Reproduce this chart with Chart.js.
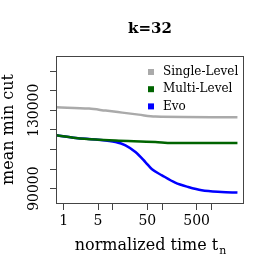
<!DOCTYPE html>
<html>
<head>
<meta charset="utf-8">
<script src="https://cdn.jsdelivr.net/npm/chart.js@4"></script>
<style>
  html, body { margin: 0; padding: 0; background: #fff; }
  #wrap { width: 273px; height: 273px; }
</style>
</head>
<body>
<div id="wrap"><canvas id="c" width="273" height="273"></canvas></div>
<script>
// data (x = normalized time, log scale)
var chartTitle = "k=32";
var seriesNames = ["Single-Level", "Multi-Level", "Evo"];
var seriesColors = ["#aaaaaa", "#006400", "#0000ff"];

var singleX = [0.72, 3.28, 7.13, 15.5, 33.4, 72.6, 3375];
var singleY = [131530, 130870, 129850, 128820, 127800, 126780, 126420];

var multiX = [0.72, 1.77, 4.48, 11.3, 72.6, 158, 3375];
var multiY = [117230, 115850, 115030, 114520, 113800, 113290, 113290];

var evoX = [0.72, 1.77, 4.48, 11.3, 18.0, 28.7, 45.6, 62.3, 99, 184, 340, 634, 1607, 3375];
var evoY = [117230, 115850, 115030, 113800, 112120, 108690, 103580, 99850, 96790, 93060, 90810, 89120, 88250, 87950];

var xTicks = [1, 5, 10, 50, 100, 500, 1000];
var xTickLabels = [1, 5, 50, 500];
var yTicks = [90000, 100000, 110000, 120000, 130000, 140000, 150000];
var yTickLabels = [90000, 130000];

var serif = "'DejaVu Serif', serif";

function pts(xs, ys) {
  var out = [];
  for (var i = 0; i < xs.length; i++) out.push({x: xs[i], y: ys[i]});
  return out;
}

var allX = [singleX, multiX, evoX];
var allY = [singleY, multiY, evoY];
var datasets = [];
for (var i = 0; i < seriesNames.length; i++) {
  datasets.push({
    label: seriesNames[i],
    data: pts(allX[i], allY[i]),
    borderColor: seriesColors[i],
    backgroundColor: seriesColors[i],
    borderWidth: 2.5,
    pointRadius: 0,
    cubicInterpolationMode: "monotone"
  });
}

// box, title, rotated y labels, axis titles and legend in R style
var rStyle = {
  id: "rStyle",
  afterDraw: function(chart) {
    var ctx = chart.ctx;
    var a = chart.chartArea;
    var cx = (a.left + a.right) / 2;
    ctx.save();
    ctx.strokeStyle = "#444";
    ctx.lineWidth = 1;
    ctx.strokeRect(a.left + 0.5, a.top + 0.5, a.right - a.left - 1, a.bottom - a.top);

    ctx.fillStyle = "#000";
    ctx.textAlign = "center";
    ctx.textBaseline = "middle";

    // main title, centred over the plot region
    ctx.font = "bold 15px " + serif;
    ctx.fillText(chartTitle, cx, 29);

    // y tick labels
    var ys = chart.scales.y;
    ctx.font = "14px " + serif;
    yTickLabels.forEach(function(v) {
      ctx.save();
      ctx.translate(34, ys.getPixelForValue(v));
      ctx.rotate(-Math.PI / 2);
      ctx.fillText(String(v), 0, 0);
      ctx.restore();
    });

    // y title
    ctx.save();
    ctx.font = "16px " + serif;
    ctx.translate(9, (a.top + a.bottom) / 2);
    ctx.rotate(-Math.PI / 2);
    ctx.fillText("mean min cut", 0, 0);
    ctx.restore();

    // x title with subscript n
    ctx.font = "16px " + serif;
    var main = "normalized time t";
    var w1 = ctx.measureText(main).width;
    ctx.font = "11px " + serif;
    var w2 = ctx.measureText("n").width;
    var sx = cx - (w1 + w2) / 2;
    ctx.textAlign = "left";
    ctx.textBaseline = "alphabetic";
    ctx.font = "16px " + serif;
    ctx.fillText(main, sx, 250);
    ctx.font = "11px " + serif;
    ctx.fillText("n", sx + w1 + 1, 254);

    // legend
    ctx.font = "12px " + serif;
    ctx.textBaseline = "middle";
    for (var i = 0; i < seriesNames.length; i++) {
      var ly = 72 + i * 17.2;
      ctx.fillStyle = seriesColors[i];
      ctx.fillRect(148, ly - 3, 6, 6);
      ctx.fillStyle = "#000";
      ctx.fillText(seriesNames[i], 163, ly);
    }
    ctx.restore();
  }
};

new Chart(document.getElementById("c"), {
  type: "line",
  data: { datasets: datasets },
  options: {
    responsive: false,
    animation: false,
    layout: { padding: { left: 0, right: 29, top: 56, bottom: 0 } },
    plugins: {
      legend: { display: false },
      tooltip: { enabled: false },
      title: { display: false }
    },
    scales: {
      x: {
        type: "logarithmic",
        min: 0.72,
        max: 4585,
        afterBuildTicks: function(s) { s.ticks = xTicks.map(function(v) { return {value: v}; }); },
        afterFit: function(s) { s.height = 70; },
        grid: { drawOnChartArea: false, color: "#444", tickLength: 7 },
        border: { display: false },
        ticks: {
          autoSkip: false,
          maxRotation: 0,
          padding: 3,
          color: "#000",
          font: { family: serif, size: 14 },
          callback: function(v) { return xTickLabels.indexOf(v) >= 0 ? String(v) : ""; }
        }
      },
      y: {
        type: "linear",
        min: 82640,
        max: 157750,
        afterBuildTicks: function(s) { s.ticks = yTicks.map(function(v) { return {value: v}; }); },
        afterFit: function(s) { s.width = 56; },
        grid: { drawOnChartArea: false, color: "#444", tickLength: 6 },
        border: { display: false },
        ticks: { display: true, padding: 0, callback: function() { return ""; } }
      }
    }
  },
  plugins: [rStyle]
});
</script>
</body>
</html>
